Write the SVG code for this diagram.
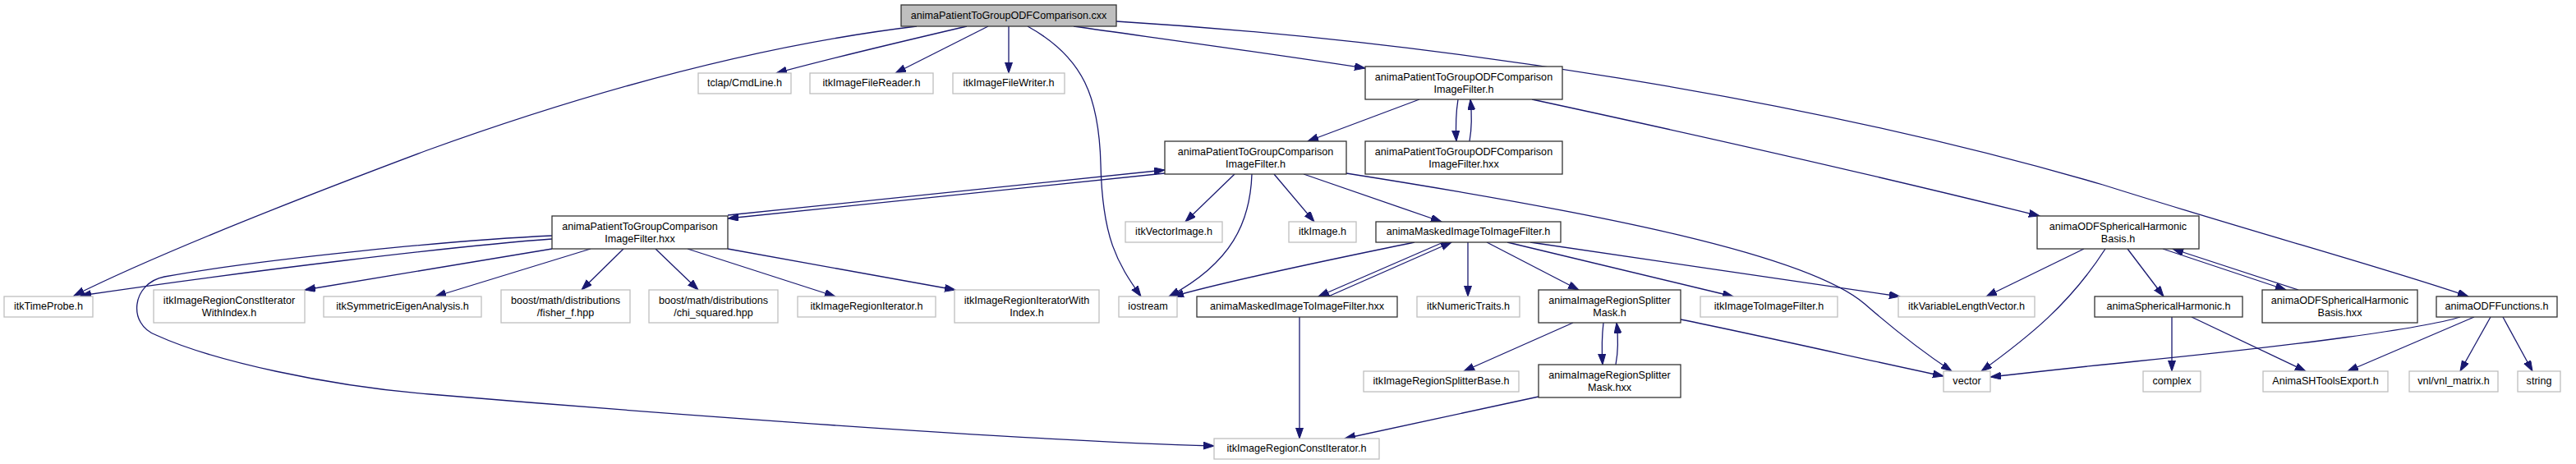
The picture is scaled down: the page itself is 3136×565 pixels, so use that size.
<svg xmlns="http://www.w3.org/2000/svg" width="3136" height="565" viewBox="0 0 3136 565">
<style>
.g{fill:#fff;stroke:#bfbfbf;stroke-width:1.3}
.b{fill:#fff;stroke:#333;stroke-width:1.3}
.r{fill:#bfbfbf;stroke:#333;stroke-width:1.3}
text{font-family:"Liberation Sans",Arial,sans-serif;font-size:12.6px;fill:#000;text-anchor:middle}
.e path{fill:none;stroke:#191970;stroke-width:1.3;marker-end:url(#a)}
</style>
<defs>
<marker id="a" markerWidth="14" markerHeight="10" refX="13" refY="4.5" orient="auto" markerUnits="userSpaceOnUse">
<path d="M0,0 L13,4.5 L0,9 z" fill="#191970" stroke="#191970" stroke-width="1"/>
</marker>
</defs>
<rect width="3136" height="565" fill="#fff"/>
<g id="edges" class="e">
<path d="M1116,32 C950,52 750,100 520,183 C400,228 200,305 90,360"/>
<path d="M1177,32 C1100,50 1000,74 945,89"/>
<path d="M1203,32 L1090,89"/>
<path d="M1228,32 L1228,89"/>
<path d="M1251,32 C1320,70 1338,120 1340,200 C1342,290 1360,320 1389,361"/>
<path d="M1307,32 C1420,48 1560,67 1662,83"/>
<path d="M1359,26 C1750,50 2200,120 2560,225 C2750,285 2900,325 3005,361"/>
<path d="M1728,121 L1592,172"/>
<path d="M1775,121 C1772,140 1772,155 1773,172"/>
<path d="M1789,172 C1792,155 1792,140 1790,121"/>
<path d="M1865,121 C1990,148 2250,205 2483,263"/>
<path d="M1418,211 C1200,232 1000,254 886,266"/>
<path d="M886,262 C1000,250 1200,229 1418,207"/>
<path d="M1503,212 L1443,270"/>
<path d="M1524,212 C1522,270 1500,320 1423,361"/>
<path d="M1551,212 L1600,270"/>
<path d="M1587,212 L1755,270"/>
<path d="M1639,211 C1950,260 2200,310 2270,370 C2310,405 2340,428 2376,452"/>
<path d="M672,291 C560,299 300,330 98,360"/>
<path d="M672,287 C560,292 320,315 200,337 C160,345 155,395 190,408 C260,440 400,470 523,480 C700,495 1200,535 1478,543"/>
<path d="M672,303 L371,353"/>
<path d="M719,303 L530,361"/>
<path d="M759,303 L708,353"/>
<path d="M798,303 L850,353"/>
<path d="M837,303 L1017,361"/>
<path d="M886,303 L1163,353"/>
<path d="M1722,295 C1650,310 1500,340 1428,361"/>
<path d="M1757,295 L1605,361"/>
<path d="M1617,361 L1767,295"/>
<path d="M1787,295 L1787,361"/>
<path d="M1810,295 L1922,353"/>
<path d="M1835,295 L2110,361"/>
<path d="M1863,295 C1980,312 2200,345 2313,361"/>
<path d="M1582,386 L1582,534"/>
<path d="M1915,393 L1782,452"/>
<path d="M1952,393 C1950,410 1950,428 1951,444"/>
<path d="M1967,444 C1970,428 1970,410 1968,393"/>
<path d="M2046,389 C2150,410 2280,440 2366,458"/>
<path d="M1873,483 L1637,534"/>
<path d="M2537,303 L2418,361"/>
<path d="M2563,303 C2520,370 2470,410 2412,452"/>
<path d="M2590,303 L2634,361"/>
<path d="M2633,303 L2783,353"/>
<path d="M2798,353 L2645,303"/>
<path d="M2644,386 L2644,452"/>
<path d="M2668,386 L2807,452"/>
<path d="M3012,386 L2858,452"/>
<path d="M3032,386 L2995,452"/>
<path d="M3047,386 L3083,452"/>
<path d="M2995,386 C2950,400 2800,420 2600,440 C2520,448 2460,455 2423,459"/>
</g>
<g id="n_root"><rect class="r" x="1097" y="6" width="262" height="26"/><text x="1228" y="23">animaPatientToGroupODFComparison.cxx</text></g>
<g id="n_tclap"><rect class="g" x="850" y="89" width="113" height="25"/><text x="906.5" y="105">tclap/CmdLine.h</text></g>
<g id="n_reader"><rect class="g" x="986" y="89" width="150" height="25"/><text x="1061" y="105">itkImageFileReader.h</text></g>
<g id="n_writer"><rect class="g" x="1160" y="89" width="136" height="25"/><text x="1228" y="105">itkImageFileWriter.h</text></g>
<g id="n_odfh"><rect class="b" x="1662" y="81" width="240" height="40"/><text x="1782" y="97.5">animaPatientToGroupODFComparison</text><text x="1782" y="112.5">ImageFilter.h</text></g>
<g id="n_odfhxx"><rect class="b" x="1662" y="172" width="240" height="40"/><text x="1782" y="188.5">animaPatientToGroupODFComparison</text><text x="1782" y="203.5">ImageFilter.hxx</text></g>
<g id="n_ptgh"><rect class="b" x="1418" y="172" width="221" height="40"/><text x="1528.5" y="188.5">animaPatientToGroupComparison</text><text x="1528.5" y="203.5">ImageFilter.h</text></g>
<g id="n_vecimg"><rect class="g" x="1370" y="270" width="118" height="25"/><text x="1429" y="286">itkVectorImage.h</text></g>
<g id="n_itkimage"><rect class="g" x="1569" y="270" width="82" height="25"/><text x="1610" y="286">itkImage.h</text></g>
<g id="n_maskedh"><rect class="b" x="1675" y="270" width="225" height="25"/><text x="1787.5" y="286">animaMaskedImageToImageFilter.h</text></g>
<g id="n_shbasis"><rect class="b" x="2480" y="263" width="197" height="40"/><text x="2578.5" y="279.5">animaODFSphericalHarmonic</text><text x="2578.5" y="294.5">Basis.h</text></g>
<g id="n_ptghxx"><rect class="b" x="672" y="263" width="214" height="40"/><text x="779" y="279.5">animaPatientToGroupComparison</text><text x="779" y="294.5">ImageFilter.hxx</text></g>
<g id="n_timeprobe"><rect class="g" x="5" y="361" width="108" height="25"/><text x="59" y="377">itkTimeProbe.h</text></g>
<g id="n_rcwi"><rect class="g" x="187" y="353" width="184" height="40"/><text x="279" y="369.5">itkImageRegionConstIterator</text><text x="279" y="384.5">WithIndex.h</text></g>
<g id="n_symeig"><rect class="g" x="394" y="361" width="192" height="25"/><text x="490" y="377">itkSymmetricEigenAnalysis.h</text></g>
<g id="n_fisher"><rect class="g" x="610" y="353" width="157" height="40"/><text x="688.5" y="369.5">boost/math/distributions</text><text x="688.5" y="384.5">/fisher_f.hpp</text></g>
<g id="n_chi"><rect class="g" x="790" y="353" width="157" height="40"/><text x="868.5" y="369.5">boost/math/distributions</text><text x="868.5" y="384.5">/chi_squared.hpp</text></g>
<g id="n_rit"><rect class="g" x="971" y="361" width="168" height="25"/><text x="1055" y="377">itkImageRegionIterator.h</text></g>
<g id="n_riwi"><rect class="g" x="1162" y="353" width="176" height="40"/><text x="1250" y="369.5">itkImageRegionIteratorWith</text><text x="1250" y="384.5">Index.h</text></g>
<g id="n_iostream"><rect class="g" x="1362" y="361" width="71" height="25"/><text x="1397.5" y="377">iostream</text></g>
<g id="n_maskedhxx"><rect class="b" x="1457" y="361" width="244" height="25"/><text x="1579" y="377">animaMaskedImageToImageFilter.hxx</text></g>
<g id="n_numtraits"><rect class="g" x="1725" y="361" width="125" height="25"/><text x="1787.5" y="377">itkNumericTraits.h</text></g>
<g id="n_splith"><rect class="b" x="1873" y="353" width="173" height="40"/><text x="1959.5" y="369.5">animaImageRegionSplitter</text><text x="1959.5" y="384.5">Mask.h</text></g>
<g id="n_i2i"><rect class="g" x="2070" y="361" width="167" height="25"/><text x="2153.5" y="377">itkImageToImageFilter.h</text></g>
<g id="n_vlv"><rect class="g" x="2311" y="361" width="166" height="25"/><text x="2394" y="377">itkVariableLengthVector.h</text></g>
<g id="n_sph"><rect class="b" x="2550" y="361" width="180" height="25"/><text x="2640" y="377">animaSphericalHarmonic.h</text></g>
<g id="n_shbasishxx"><rect class="b" x="2754" y="353" width="189" height="40"/><text x="2848.5" y="369.5">animaODFSphericalHarmonic</text><text x="2848.5" y="384.5">Basis.hxx</text></g>
<g id="n_odffunc"><rect class="b" x="2966" y="361" width="147" height="25"/><text x="3039.5" y="377">animaODFFunctions.h</text></g>
<g id="n_splitbase"><rect class="g" x="1660" y="452" width="189" height="25"/><text x="1754.5" y="468">itkImageRegionSplitterBase.h</text></g>
<g id="n_splithxx"><rect class="b" x="1873" y="444" width="173" height="40"/><text x="1959.5" y="460.5">animaImageRegionSplitter</text><text x="1959.5" y="475.5">Mask.hxx</text></g>
<g id="n_vector"><rect class="g" x="2366" y="452" width="57" height="25"/><text x="2394.5" y="468">vector</text></g>
<g id="n_complex"><rect class="g" x="2609" y="452" width="70" height="25"/><text x="2644" y="468">complex</text></g>
<g id="n_shtools"><rect class="g" x="2755" y="452" width="152" height="25"/><text x="2831" y="468">AnimaSHToolsExport.h</text></g>
<g id="n_vnl"><rect class="g" x="2933" y="452" width="108" height="25"/><text x="2987" y="468">vnl/vnl_matrix.h</text></g>
<g id="n_string"><rect class="g" x="3065" y="452" width="52" height="25"/><text x="3091" y="468">string</text></g>
<g id="n_rci"><rect class="g" x="1478" y="534" width="201" height="25"/><text x="1578.5" y="550">itkImageRegionConstIterator.h</text></g>
</svg>
